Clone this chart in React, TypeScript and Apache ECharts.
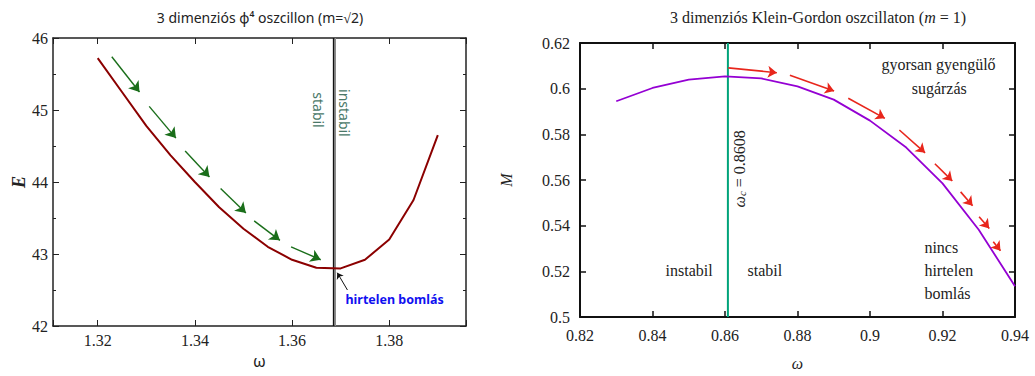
import React, { useEffect, useRef } from "react";
import * as echarts from "echarts";

// ---- Left panel: 3D phi^4 oscillon ----
const phiOmega = [1.32, 1.325, 1.33, 1.335, 1.34, 1.345, 1.35, 1.355, 1.36, 1.365, 1.37, 1.375, 1.38, 1.385, 1.39];
const phiEnergy = [45.72, 45.25, 44.78, 44.37, 44.0, 43.65, 43.35, 43.1, 42.92, 42.81, 42.8, 42.92, 43.2, 43.75, 44.65];
const phiXTicks = [1.32, 1.34, 1.36, 1.38];
const phiYTicks = [42, 43, 44, 45, 46];
const phiCritical = [1.36855, 1.36888];
// green arrows [x1, y1, x2, y2]
const phiArrows = [
  [1.3229, 45.74, 1.3286, 45.25],
  [1.3306, 45.05, 1.3361, 44.61],
  [1.338, 44.43, 1.343, 44.07],
  [1.3453, 43.91, 1.3505, 43.57],
  [1.3522, 43.46, 1.3575, 43.19],
  [1.3598, 43.1, 1.3659, 42.92],
];
const phiPointer = [1.3714, 42.5, 1.3693, 42.74];

// ---- Right panel: 3D Klein-Gordon oscillaton ----
const kgOmega = [0.83, 0.84, 0.85, 0.86, 0.87, 0.88, 0.89, 0.9, 0.91, 0.92, 0.93, 0.94];
const kgMass = [0.5945, 0.6003, 0.604, 0.6054, 0.6045, 0.601, 0.5952, 0.586, 0.5742, 0.5585, 0.5382, 0.5135];
const kgCritical = 0.8608;
const kgArrows = [
  [0.8609, 0.6091, 0.8743, 0.607],
  [0.8779, 0.6059, 0.8901, 0.599],
  [0.894, 0.5958, 0.9041, 0.587],
  [0.9081, 0.5819, 0.9152, 0.5719],
  [0.9179, 0.5671, 0.9227, 0.5596],
  [0.925, 0.5548, 0.9283, 0.5487],
  [0.9301, 0.5439, 0.9329, 0.5388],
  [0.934, 0.533, 0.936, 0.529],
];

const SERIF = "Liberation Serif";
const SANS = "Noto Sans";

function arrowSeries(arrows: number[][], color: string, gi: number, size: number, width: number) {
  return {
    type: "lines",
    coordinateSystem: "cartesian2d",
    xAxisIndex: gi * 2,
    yAxisIndex: gi * 2,
    silent: true,
    symbol: ["none", "arrow"],
    symbolSize: size,
    lineStyle: { color, width, opacity: 1, curveness: 0 },
    data: arrows.map((a) => ({ coords: [[a[0], a[1]], [a[2], a[3]]] })),
    z: 4,
  };
}

function vline(x: number, y0: number, y1: number, gi: number, color: string, width: number) {
  return {
    type: "line",
    xAxisIndex: gi * 2,
    yAxisIndex: gi * 2,
    silent: true,
    showSymbol: false,
    data: [[x, y0], [x, y1]],
    lineStyle: { color, width },
    z: 2,
  };
}

export default function App() {
  const ref = useRef<HTMLDivElement>(null);
  useEffect(() => {
    document.body.style.margin = "0";
    const chart = echarts.init(ref.current!, null, { renderer: "svg" });

    const frameL = { show: true, lineStyle: { color: "#222", width: 1.5 }, onZero: false };
    const frameR = { show: true, lineStyle: { color: "#111", width: 2 }, onZero: false };
    const tickL = { show: true, inside: true, length: 6, lineStyle: { color: "#222", width: 1 } };
    const tickR = { show: true, inside: true, length: 6, lineStyle: { color: "#111", width: 1.5 } };
    const minorL = { show: true, splitNumber: 2, length: 3, lineStyle: { color: "#222", width: 1 } };

    const option: any = {
      animation: false,
      textStyle: { fontFamily: SERIF },
      grid: [
        { left: 53, top: 38, width: 413, height: 288, containLabel: false },
        { left: 580, top: 43, width: 435, height: 276, containLabel: false },
      ],
      xAxis: [
        {
          type: "value", gridIndex: 0, position: "bottom", min: 1.3108, max: 1.3958, splitNumber: 5,
          axisLine: frameL, axisTick: tickL, splitLine: { show: false },
          axisLabel: {
            color: "#222", fontFamily: SERIF, fontSize: 16, margin: 6,
            formatter: (v: number) => (phiXTicks.some((t) => Math.abs(t - v) < 1e-6) ? v.toFixed(2) : ""),
          },
          name: "ω", nameLocation: "middle", nameGap: 17,
          nameTextStyle: { fontFamily: SANS, fontSize: 16, color: "#222" },
        },
        {
          type: "value", gridIndex: 0, position: "top", min: 1.3108, max: 1.3958, splitNumber: 5,
          axisLine: frameL, axisTick: tickL, splitLine: { show: false }, axisLabel: { show: false },
        },
        {
          type: "value", gridIndex: 1, position: "bottom", min: 0.82, max: 0.94, interval: 0.02,
          axisLine: frameR, axisTick: tickR, splitLine: { show: false },
          axisLabel: { color: "#222", fontFamily: SERIF, fontSize: 16, margin: 10 },
          name: "ω", nameLocation: "middle", nameGap: 38,
          nameTextStyle: { fontFamily: SERIF, fontStyle: "italic", fontSize: 16, color: "#222" },
        },
        {
          type: "value", gridIndex: 1, position: "top", min: 0.82, max: 0.94, interval: 0.02,
          axisLine: frameR, axisTick: tickR, splitLine: { show: false }, axisLabel: { show: false },
        },
      ],
      yAxis: [
        {
          type: "value", gridIndex: 0, position: "left", min: 42, max: 46, interval: 1,
          axisLine: frameL, axisTick: tickL, minorTick: minorL, splitLine: { show: false },
          axisLabel: {
            color: "#222", fontFamily: SERIF, fontSize: 16, margin: 5,
            formatter: (v: number) => (phiYTicks.includes(v) ? String(v) : ""),
          },
          name: "E", nameLocation: "middle", nameGap: 25,
          nameTextStyle: { fontFamily: SERIF, fontStyle: "italic", fontWeight: "bold", fontSize: 18, color: "#222" },
        },
        {
          type: "value", gridIndex: 0, position: "right", min: 42, max: 46, interval: 1,
          axisLine: frameL, axisTick: tickL, minorTick: minorL, splitLine: { show: false }, axisLabel: { show: false },
        },
        {
          type: "value", gridIndex: 1, position: "left", min: 0.5, max: 0.62, interval: 0.02,
          axisLine: frameR, axisTick: tickR, splitLine: { show: false },
          axisLabel: { color: "#222", fontFamily: SERIF, fontSize: 16, margin: 10 },
          name: "M", nameLocation: "middle", nameGap: 66,
          nameTextStyle: { fontFamily: SERIF, fontStyle: "italic", fontSize: 16, color: "#222" },
        },
        {
          type: "value", gridIndex: 1, position: "right", min: 0.5, max: 0.62, interval: 0.02,
          axisLine: frameR, axisTick: tickR, splitLine: { show: false }, axisLabel: { show: false },
        },
      ],
      series: [
        vline(phiCritical[1], 42, 46, 0, "#8a8a8a", 1.6),
        vline(phiCritical[0], 42, 46, 0, "#111", 1.5),
        {
          type: "line", xAxisIndex: 0, yAxisIndex: 0, silent: true,
          data: phiOmega.map((w, i) => [w, phiEnergy[i]]),
          showSymbol: false, lineStyle: { color: "#8b0000", width: 2 }, z: 3,
        },
        arrowSeries(phiArrows, "#1a6e1a", 0, 10, 1.4),
        arrowSeries([phiPointer], "#111", 0, 6, 1),
        vline(kgCritical, 0.5, 0.62, 1, "#00a37a", 2),
        {
          type: "line", xAxisIndex: 2, yAxisIndex: 2, silent: true,
          data: kgOmega.map((w, i) => [w, kgMass[i]]),
          showSymbol: false, lineStyle: { color: "#9400d3", width: 1.8 }, z: 3,
        },
        arrowSeries(kgArrows, "#e8261c", 1, 9, 1.6),
      ],
    };
    chart.setOption(option);

    const P = (gi: number, c: number[]) =>
      chart.convertToPixel({ xAxisIndex: gi * 2, yAxisIndex: gi * 2 } as any, c) as number[];
    const txt = (gi: number, c: number[], text: string, style: any, rotation = 0) => {
      const p = P(gi, c);
      return {
        type: "text", x: p[0], y: p[1], rotation, silent: true, z: 10,
        style: { text, textAlign: "center", textVerticalAlign: "middle", ...style },
      };
    };
    const sansGreen = { fontFamily: SANS, fontSize: 14, fill: "#4a7868" };
    const serif = { fontFamily: SERIF, fontSize: 16, fill: "#222" };

    chart.setOption({
      graphic: [
        {
          type: "text", x: 260, y: 17,
          style: {
            text: "3 dimenziós ϕ⁴ oszcillon (m=√2)", fontFamily: SANS, fontSize: 14,
            fill: "#222", textAlign: "center", textVerticalAlign: "middle",
          },
        },
        {
          type: "text", x: 818, y: 17,
          style: {
            text: "3 dimenziós Klein-Gordon oszcillaton ({i|m} = 1)", fontFamily: SERIF, fontSize: 16,
            fill: "#222", textAlign: "center", textVerticalAlign: "middle",
            rich: { i: { fontFamily: SERIF, fontStyle: "italic", fontSize: 16, fill: "#222" } },
          },
        },
        txt(0, [1.3654, 45.0], "stabil", sansGreen, -Math.PI / 2),
        txt(0, [1.3708, 44.96], "instabil", sansGreen, -Math.PI / 2),
        txt(0, [1.3811, 42.375], "hirtelen bomlás", { fontFamily: SANS, fontSize: 12.5, fontWeight: "bold", fill: "#1010f0" }),
        txt(1, [0.8641, 0.5649], "{i|ω}{s|c} = 0.8608", {
          ...serif,
          rich: {
            i: { fontFamily: SERIF, fontStyle: "italic", fontSize: 16, fill: "#222" },
            s: { fontFamily: SERIF, fontStyle: "italic", fontSize: 11, fill: "#222", verticalAlign: "bottom" },
          },
        }, Math.PI / 2),
        txt(1, [0.8501, 0.5203], "instabil", serif),
        txt(1, [0.871, 0.5203], "stabil", serif),
        txt(1, [0.9189, 0.6106], "gyorsan gyengülő", serif),
        txt(1, [0.9191, 0.6], "sugárzás", serif),
        txt(1, [0.915, 0.5203], "nincs\nhirtelen\nbomlás", { ...serif, textAlign: "left", lineHeight: 23 }),
      ],
    });
    return () => chart.dispose();
  }, []);
  return <div ref={ref} style={{ width: 1035, height: 376 }} />;
}
